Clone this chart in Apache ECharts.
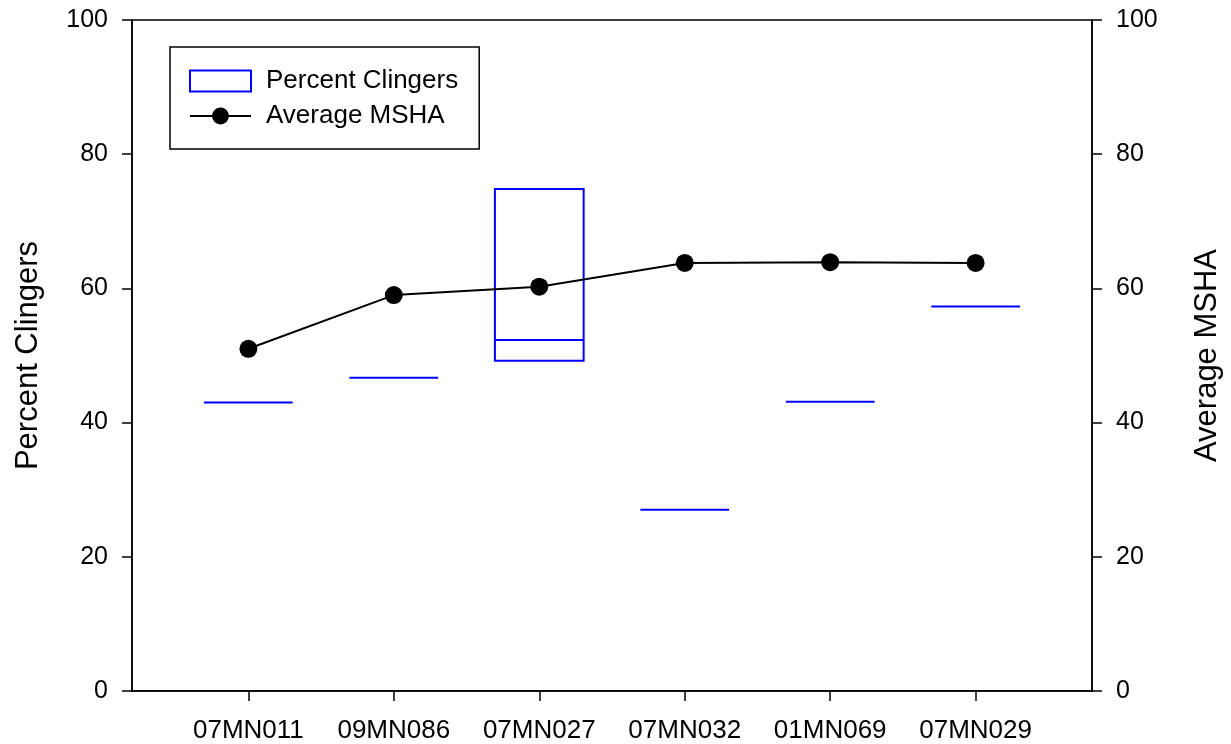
<!DOCTYPE html>
<html>
<head>
<meta charset="utf-8">
<script src="https://cdn.jsdelivr.net/npm/echarts@6/dist/echarts.min.js"></script>
<style>
html,body{margin:0;padding:0;background:#fff;}
#chart{width:1231px;height:744px;}
</style>
</head>
<body>
<div id="chart"></div>
<script>
// ---- data ----
var categories = ['07MN011', '09MN086', '07MN027', '07MN032', '01MN069', '07MN029'];
var clingersTop    = [43.0, 46.7, 74.8, 27.0, 43.1, 57.3];
var clingersMedian = [43.0, 46.7, 52.3, 27.0, 43.1, 57.3];
var clingersBottom = [43.0, 46.7, 49.2, 27.0, 43.1, 57.3];
var mshaValues     = [51.0, 59.0, 60.25, 63.8, 63.9, 63.8];
var yTicks = [0, 20, 40, 60, 80, 100];

var FONT = '"Liberation Sans", Arial, sans-serif';
var BLUE = '#0000ff';

var positions = categories.map(function (c, i) { return i + 1; });
var boxData = categories.map(function (c, i) {
  return [i + 1, clingersTop[i], clingersMedian[i], clingersBottom[i]];
});
var lineData = categories.map(function (c, i) { return [i + 1, mshaValues[i]]; });

function renderBox(params, api) {
  var x = api.value(0);
  var halfW = 0.305;
  var pTop = api.coord([x - halfW, api.value(1)]);
  var pMed = api.coord([x - halfW, api.value(2)]);
  var pBot = api.coord([x - halfW, api.value(3)]);
  var w = api.size([halfW * 2, 0])[0];
  var style = { stroke: BLUE, lineWidth: 2, fill: null };
  var children = [];
  if (Math.abs(pBot[1] - pTop[1]) > 0.5) {
    children.push({ type: 'rect', shape: { x: pTop[0], y: pTop[1], width: w, height: pBot[1] - pTop[1] }, style: style });
  }
  children.push({ type: 'line', shape: { x1: pMed[0], y1: pMed[1], x2: pMed[0] + w, y2: pMed[1] }, style: style });
  return { type: 'group', children: children };
}

var axisLineStyle = { color: '#000', width: 1.5 };

var option = {
  backgroundColor: '#fff',
  animation: false,
  grid: { left: 132, right: 139, top: 20, bottom: 53, show: true, borderColor: '#000', borderWidth: 1.5, backgroundColor: 'transparent' },
  legend: {
    left: 170, top: 47,
    orient: 'vertical',
    padding: [21, 21, 20, 19],
    itemGap: 9,
    itemWidth: 61,
    itemHeight: 21,
    borderColor: '#000',
    borderWidth: 1.5,
    textStyle: { fontFamily: FONT, fontSize: 26, color: '#000', padding: [0, 0, 0, 10] },
    data: [
      { name: 'Percent Clingers', icon: 'rect', itemStyle: { color: 'rgba(0,0,0,0)', borderColor: BLUE, borderWidth: 2 } },
      { name: 'Average MSHA' }
    ]
  },
  xAxis: {
    type: 'value',
    min: 0.2, max: 6.8,
    axisLine: { show: true, lineStyle: axisLineStyle },
    axisTick: { show: true, customValues: positions, length: 10, inside: false, lineStyle: axisLineStyle },
    axisLabel: {
      customValues: positions,
      margin: 27,
      fontFamily: FONT, fontSize: 26, color: '#000',
      formatter: function (v) { return categories[Math.round(v) - 1] || ''; }
    },
    splitLine: { show: false }
  },
  yAxis: [
    {
      type: 'value', min: 0, max: 100, interval: 20, position: 'left',
      name: 'Percent Clingers', nameLocation: 'middle', nameRotate: 90, nameGap: 88,
      nameTextStyle: { fontFamily: FONT, fontSize: 31, color: '#000' },
      axisLine: { show: true, lineStyle: axisLineStyle },
      axisTick: { show: true, length: 10, inside: false, lineStyle: axisLineStyle },
      axisLabel: { margin: 24, fontFamily: FONT, fontSize: 25, color: '#000' },
      splitLine: { show: false }
    },
    {
      type: 'value', min: 0, max: 100, interval: 20, position: 'right',
      name: 'Average MSHA', nameLocation: 'middle', nameRotate: 90, nameGap: 100,
      nameTextStyle: { fontFamily: FONT, fontSize: 31, color: '#000' },
      axisLine: { show: true, lineStyle: axisLineStyle },
      axisTick: { show: true, length: 10, inside: false, lineStyle: axisLineStyle },
      axisLabel: { margin: 24, fontFamily: FONT, fontSize: 25, color: '#000' },
      splitLine: { show: false }
    }
  ],
  series: [
    {
      name: 'Percent Clingers',
      type: 'custom',
      xAxisIndex: 0, yAxisIndex: 0,
      renderItem: renderBox,
      encode: { x: 0, y: [1, 2, 3] },
      itemStyle: { color: BLUE, borderColor: BLUE },
      data: boxData,
      z: 2
    },
    {
      name: 'Average MSHA',
      type: 'line',
      xAxisIndex: 0, yAxisIndex: 1,
      data: lineData,
      symbol: 'circle',
      symbolSize: 18,
      lineStyle: { color: '#000', width: 2 },
      itemStyle: { color: '#000' },
      z: 3
    }
  ]
};

var chart = echarts.init(document.getElementById('chart'), null, { renderer: 'canvas' });
chart.setOption(option);
</script>
</body>
</html>
